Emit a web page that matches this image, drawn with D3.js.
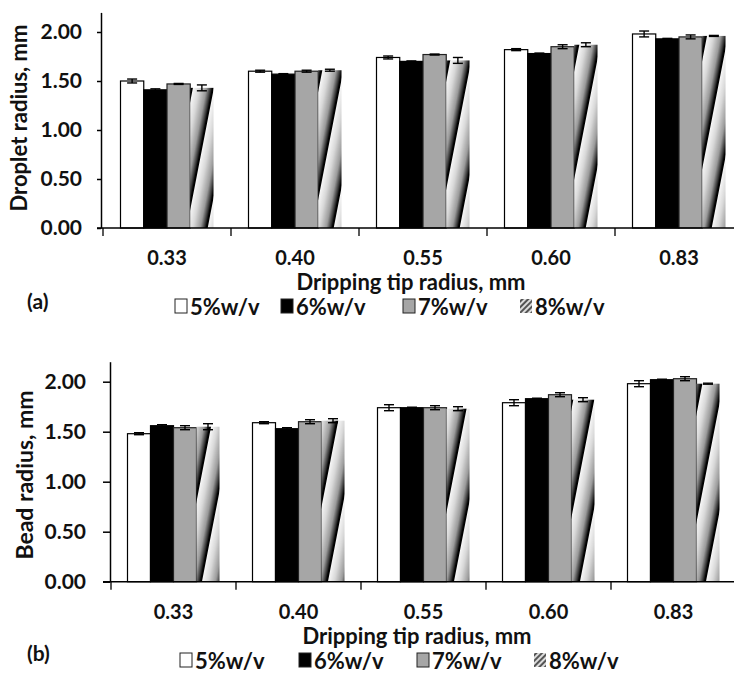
<!DOCTYPE html>
<html>
<head>
<meta charset="utf-8">
<script src="https://cdn.jsdelivr.net/npm/d3@7"></script>
<style>
  html, body { margin: 0; padding: 0; background: #fff; }
  svg { display: block; font-family: Lato, "Open Sans", "DejaVu Sans", sans-serif; }
</style>
</head>
<body>
<svg id="chart" width="734" height="675"></svg>
<script>
// ---------- data ----------
const categories = ["0.33", "0.40", "0.55", "0.60", "0.83"];
const seriesNames = ["5%w/v", "6%w/v", "7%w/v", "8%w/v"];

// (a) Droplet radius, mm
const droplet5 = [1.50, 1.60, 1.74, 1.82, 1.98];
const droplet6 = [1.41, 1.57, 1.70, 1.78, 1.93];
const droplet7 = [1.47, 1.60, 1.77, 1.85, 1.95];
const droplet8 = [1.43, 1.61, 1.71, 1.87, 1.96];
const dropletErr5 = [0.02, 0.01, 0.015, 0.01, 0.03];
const dropletErr6 = [0.01, 0.005, 0.005, 0.005, 0.005];
const dropletErr7 = [0.005, 0.01, 0.005, 0.02, 0.02];
const dropletErr8 = [0.03, 0.01, 0.03, 0.02, 0.005];

// (b) Bead radius, mm
const bead5 = [1.48, 1.59, 1.74, 1.79, 1.98];
const bead6 = [1.56, 1.53, 1.74, 1.83, 2.02];
const bead7 = [1.54, 1.60, 1.74, 1.87, 2.03];
const bead8 = [1.55, 1.61, 1.73, 1.82, 1.98];
const beadErr5 = [0.01, 0.01, 0.03, 0.03, 0.03];
const beadErr6 = [0.01, 0.01, 0.005, 0.005, 0.005];
const beadErr7 = [0.02, 0.02, 0.02, 0.02, 0.02];
const beadErr8 = [0.03, 0.02, 0.02, 0.02, 0.005];

const yTicks = [0, 0.5, 1.0, 1.5, 2.0];
const yMax = 2.2;
const xTitle = "Dripping tip radius, mm";

// ---------- drawing ----------
const svg = d3.select("#chart");
const defs = svg.append("defs");

// gradient stripe pattern for 8%w/v
const grad = defs.append("linearGradient").attr("id", "stripeGrad")
  .attr("x1", "0").attr("x2", "1").attr("y1", "0").attr("y2", "0");
[[0, "#f7f7f7"], [0.3, "#d9d9d9"], [0.65, "#9a9a9a"], [0.85, "#333"], [0.93, "#000"], [1, "#000"]]
  .forEach(([o, c]) => grad.append("stop").attr("offset", o).attr("stop-color", c));
const pat = defs.append("pattern").attr("id", "stripes")
  .attr("patternUnits", "userSpaceOnUse")
  .attr("width", 21).attr("height", 400)
  .attr("patternTransform", "skewX(-11)");
pat.append("rect").attr("width", 21).attr("height", 400).attr("fill", "url(#stripeGrad)");

const legPat = defs.append("pattern").attr("id", "legStripes")
  .attr("patternUnits", "userSpaceOnUse")
  .attr("width", 4).attr("height", 4)
  .attr("patternTransform", "rotate(45)");
legPat.append("rect").attr("width", 4).attr("height", 4).attr("fill", "#ddd");
legPat.append("rect").attr("width", 2).attr("height", 4).attr("fill", "#555");

const fills = ["#ffffff", "#000000", "#a6a6a6", "url(#stripes)"];
const strokes = ["#000", "#000", "#222", "none"];
const textColor = "#111";
const fontSize = 20;

function drawChart(cfg) {
  const g = svg.append("g");
  const x = d3.scaleBand().domain(categories).range(cfg.xRange);
  const bw = x.bandwidth();
  const xs = d3.scaleBand().domain(seriesNames)
    .range([(bw - cfg.groupW) / 2, (bw + cfg.groupW) / 2]);
  const y = d3.scaleLinear().domain([0, yMax]).range(cfg.yRange);

  // bars
  cfg.values.forEach((vals, si) => {
    const sg = g.append("g");
    sg.selectAll("rect").data(vals).join("rect")
      .attr("x", (d, i) => x(categories[i]) + xs(seriesNames[si]))
      .attr("y", d => y(d))
      .attr("width", xs.bandwidth())
      .attr("height", d => y(0) - y(d))
      .attr("fill", fills[si])
      .attr("stroke", strokes[si])
      .attr("stroke-width", 1.2);
    // error bars
    const eg = g.append("g").attr("stroke", "#000").attr("stroke-width", 1.4);
    vals.forEach((d, i) => {
      const e = cfg.errors[si][i];
      const cx = x(categories[i]) + xs(seriesNames[si]) + xs.bandwidth() / 2;
      eg.append("line").attr("x1", cx).attr("x2", cx).attr("y1", y(d - e)).attr("y2", y(d + e));
      [d - e, d + e].forEach(v => eg.append("line")
        .attr("x1", cx - 5).attr("x2", cx + 5).attr("y1", y(v)).attr("y2", y(v)));
    });
  });

  // y axis
  const ya = g.append("g").attr("transform", `translate(${cfg.yAxisX},0)`)
    .call(d3.axisLeft(y).tickValues(yTicks).tickFormat(d3.format(".2f"))
      .tickSize(cfg.yTickSize).tickSizeOuter(0).tickPadding(cfg.yTickPad));
  ya.select(".domain").attr("stroke", "#000").attr("stroke-width", 1.5);
  ya.selectAll(".tick line").attr("stroke", "#000").attr("stroke-width", 1.5);
  ya.selectAll(".tick text").attr("font-size", 21).attr("font-weight", 700)
    .attr("font-family", "Lato").attr("fill", textColor);

  // x axis line and category boundary ticks
  const xa = g.append("g").attr("transform", `translate(0,${y(0)})`);
  xa.append("line").attr("x1", cfg.yAxisX - cfg.yTickSize).attr("x2", 734)
    .attr("stroke", "#000").attr("stroke-width", 1.5);
  const bounds = categories.map(c => x(c)).concat([cfg.xRange[1]]);
  xa.selectAll(".bt").data(bounds).join("line").attr("class", "bt")
    .attr("x1", d => d).attr("x2", d => d).attr("y1", 0).attr("y2", 8)
    .attr("stroke", "#000").attr("stroke-width", 1.3);
  xa.selectAll(".cl").data(categories).join("text").attr("class", "cl")
    .attr("x", d => x(d) + bw / 2).attr("y", cfg.tickLabelY - y(0))
    .attr("text-anchor", "middle").attr("dominant-baseline", "central")
    .attr("font-size", fontSize).attr("font-weight", 700).attr("fill", textColor)
    .text(d => d);

  // titles
  g.append("text").attr("x", cfg.xTitleX).attr("y", cfg.xTitleY)
    .attr("text-anchor", "middle").attr("dominant-baseline", "central")
    .attr("font-size", 22).attr("font-weight", 700).attr("fill", textColor)
    .text(xTitle);
  g.append("text")
    .attr("transform", `translate(${cfg.yTitleX},${cfg.yTitleY}) rotate(-90)`)
    .attr("text-anchor", "middle").attr("dominant-baseline", "central")
    .attr("font-size", cfg.yTitleSize).attr("font-weight", 700).attr("fill", textColor)
    .text(cfg.yTitle);
  g.append("text").attr("x", cfg.panelX).attr("y", cfg.panelY)
    .attr("dominant-baseline", "central")
    .attr("font-size", 21).attr("font-weight", 700).attr("fill", textColor)
    .text(cfg.panel);

  // legend
  const lg = g.append("g");
  seriesNames.forEach((s, i) => {
    const bx = cfg.legendX[i];
    lg.append("rect").attr("x", bx).attr("y", cfg.legendY - 7)
      .attr("width", 12).attr("height", 14)
      .attr("fill", i === 3 ? "url(#legStripes)" : fills[i])
      .attr("stroke", i === 3 ? "none" : "#222").attr("stroke-width", 1);
    lg.append("text").attr("x", bx + 15).attr("y", cfg.legendY)
      .attr("dominant-baseline", "central")
      .attr("font-size", 22).attr("font-weight", 700).attr("fill", textColor)
      .text(s);
  });
}

drawChart({
  values: [droplet5, droplet6, droplet7, droplet8],
  errors: [dropletErr5, dropletErr6, dropletErr7, dropletErr8],
  xRange: [103, 743], groupW: 93,
  yRange: [228, 12.4], yAxisX: 101, yTickSize: 4, yTickPad: 15,
  tickLabelY: 257, xTitleX: 411, xTitleY: 281,
  yTitle: "Droplet radius, mm", yTitleX: 18, yTitleY: 118, yTitleSize: 22,
  panel: "(a)", panelX: 27, panelY: 300,
  legendX: [175, 281, 403, 520], legendY: 306
});

drawChart({
  values: [bead5, bead6, bead7, bead8],
  errors: [beadErr5, beadErr6, beadErr7, beadErr8],
  xRange: [111, 736], groupW: 92,
  yRange: [581.7, 361.7], yAxisX: 110, yTickSize: 7, yTickPad: 17,
  tickLabelY: 611, xTitleX: 417, xTitleY: 635,
  yTitle: "Bead radius, mm", yTitleX: 24, yTitleY: 475, yTitleSize: 23,
  panel: "(b)", panelX: 27, panelY: 652,
  legendX: [180, 299, 417, 534], legendY: 660
});
</script>
</body>
</html>
